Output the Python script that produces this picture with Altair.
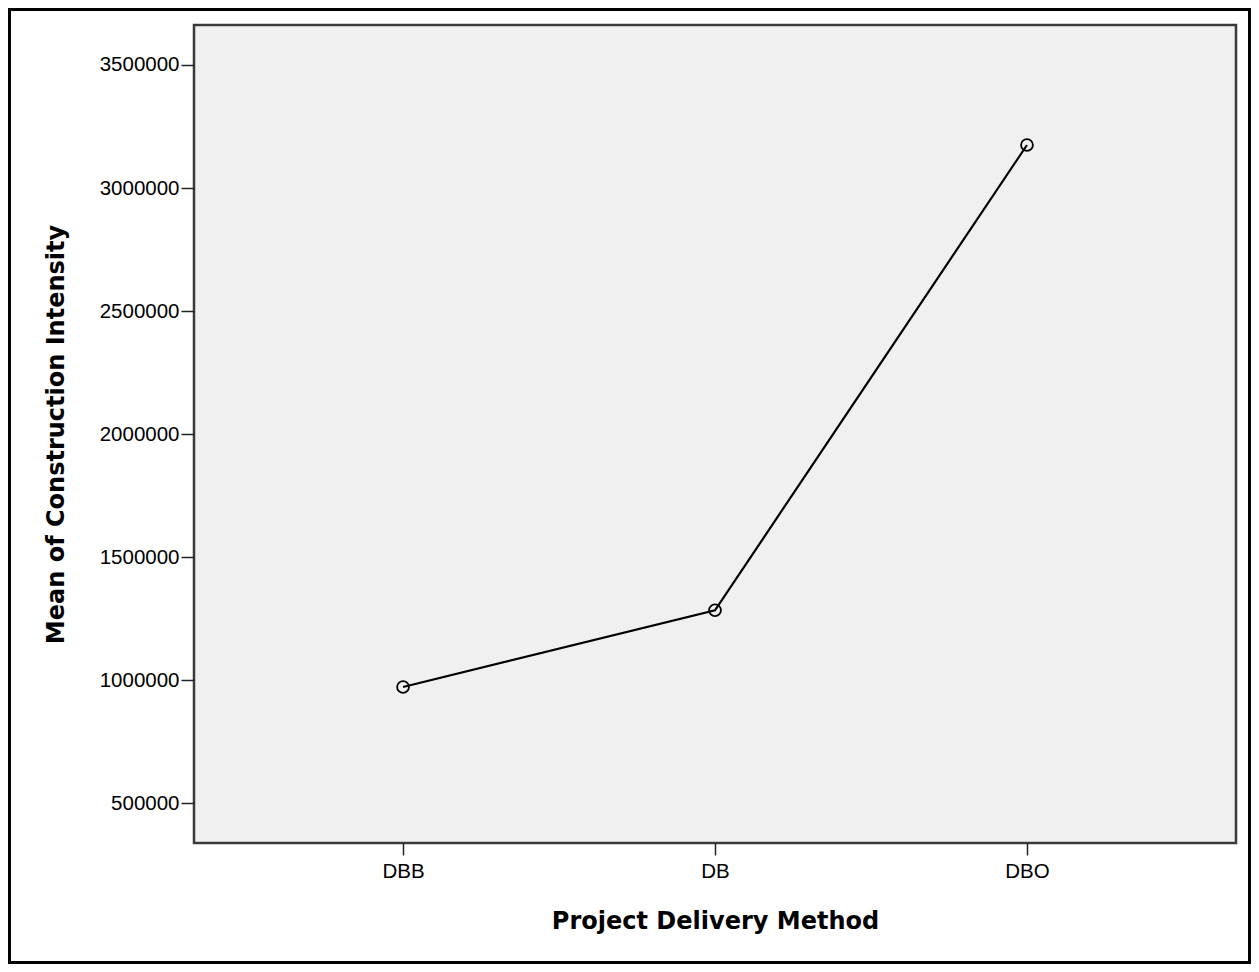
import altair as alt
import pandas as pd

methods = ["DBB", "DB", "DBO"]
means = [972800, 1284400, 3174900]
y_ticks = [500000, 1000000, 1500000, 2000000, 2500000, 3000000, 3500000]

df = pd.DataFrame({"method": methods, "mean": means})

W, H = 1042, 818

x_enc = alt.X(
    "method:N",
    sort=methods,
    scale=alt.Scale(type="point", padding=0.67),
    axis=alt.Axis(
        title="Project Delivery Method",
        labelAngle=0,
        labelFont="Liberation Sans",
        labelFontSize=20.5,
        labelColor="#000000",
        labelPadding=6,
        tickSize=12,
        tickWidth=1.5,
        tickColor="#222222",
        domain=False,
        grid=False,
        titleFont="DejaVu Sans",
        titleFontSize=24,
        titleFontWeight="bold",
        titleColor="#000000",
        titleBaseline="alphabetic",
        titleY=85,
    ),
)
y_enc = alt.Y(
    "mean:Q",
    scale=alt.Scale(domain=[338700, 3662500], nice=False, zero=False),
    axis=alt.Axis(
        title="Mean of Construction Intensity",
        values=y_ticks,
        format="d",
        labelFont="Liberation Sans",
        labelFontSize=20.5,
        labelColor="#000000",
        labelPadding=2,
        tickSize=13,
        tickWidth=1.5,
        tickColor="#222222",
        domain=False,
        grid=False,
        titleFont="DejaVu Sans",
        titleFontSize=24,
        titleFontWeight="bold",
        titleColor="#000000",
        titleBaseline="alphabetic",
        titleX=-131,
    ),
)

base = alt.Chart(df).encode(x=x_enc, y=y_enc)
line = base.mark_line(color="#000000", strokeWidth=2.2)
pts = base.mark_point(shape="circle", filled=False, size=140, stroke="#000000", strokeWidth=1.8, opacity=1)

frame = alt.Chart(pd.DataFrame({"a": [0]})).mark_rect(
    fillOpacity=0, stroke="#000000", strokeWidth=3
).encode(
    x=alt.value(-184.5), x2=alt.value(1055.5), y=alt.value(-15.5), y2=alt.value(937.5)
)

chart = alt.layer(frame, line, pts).properties(
    width=W,
    height=H,
    autosize=alt.AutoSizeParams(type="none"),
    padding={"left": 186, "top": 17, "right": 15, "bottom": 121},
    background="#ffffff",
).configure_view(
    fill="#F0F0F0", stroke="#3a3a3a", strokeWidth=2.5
)

chart.save("out.html", embed_options={"renderer": "svg", "actions": False})
